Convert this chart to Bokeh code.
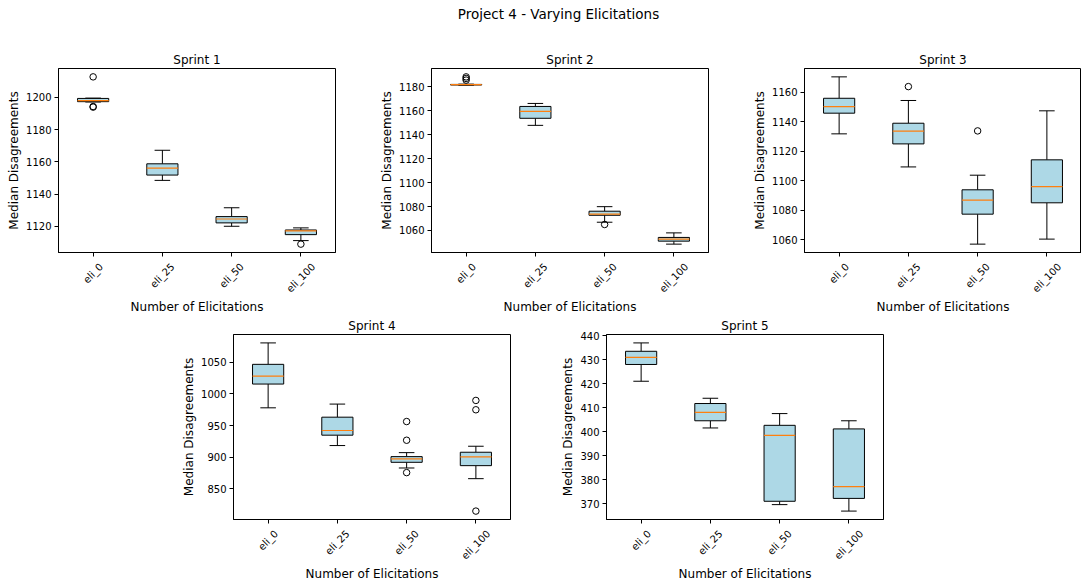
import math
from bokeh.plotting import figure
from bokeh.models import Range1d, FixedTicker, Spacer
from bokeh.layouts import column, row
from bokeh.core.properties import value
from bokeh.embed import file_html
from bokeh.resources import INLINE

FONT = "DejaVu Sans"

categories = ["eli_0", "eli_25", "eli_50", "eli_100"]

# Sprint 1
s1_q1 = [1197.4, 1151.8, 1122.1, 1114.8]
s1_med = [1198.0, 1156.1, 1124.5, 1117.1]
s1_q3 = [1199.4, 1158.8, 1126.0, 1117.7]
s1_lo = [1197.2, 1148.5, 1120.0, 1111.1]
s1_hi = [1199.6, 1167.2, 1131.5, 1119.0]
s1_flier_cat = [0, 0, 0, 3]
s1_flier_val = [1212.8, 1194.0, 1194.4, 1108.9]
s1_yticks = [1120, 1140, 1160, 1180, 1200]

# Sprint 2
s2_q1 = [1181.5, 1153.7, 1072.7, 1051.1]
s2_med = [1181.8, 1159.5, 1073.6, 1052.8]
s2_q3 = [1182.0, 1163.6, 1076.1, 1054.2]
s2_lo = [1181.3, 1147.8, 1066.9, 1048.6]
s2_hi = [1182.2, 1166.1, 1079.9, 1058.0]
s2_flier_cat = [0, 0, 0, 2]
s2_flier_val = [1185.6, 1187.0, 1188.3, 1065.0]
s2_yticks = [1060, 1080, 1100, 1120, 1140, 1160, 1180]

# Sprint 3
s3_q1 = [1145.8, 1125.0, 1077.4, 1085.1]
s3_med = [1150.3, 1133.6, 1086.9, 1096.1]
s3_q3 = [1155.9, 1139.0, 1093.9, 1114.2]
s3_lo = [1131.8, 1109.4, 1057.1, 1060.5]
s3_hi = [1170.4, 1154.4, 1103.8, 1147.4]
s3_flier_cat = [1, 2]
s3_flier_val = [1163.8, 1133.8]
s3_yticks = [1060, 1080, 1100, 1120, 1140, 1160]

# Sprint 4
s4_q1 = [1015.6, 934.7, 891.8, 886.5]
s4_med = [1028.3, 942.1, 897.1, 900.3]
s4_q3 = [1046.8, 963.2, 900.8, 907.7]
s4_lo = [978.0, 918.3, 882.8, 865.9]
s4_hi = [1080.7, 983.9, 907.1, 917.2]
s4_flier_cat = [2, 2, 2, 3, 3, 3]
s4_flier_val = [956.3, 926.7, 875.5, 989.7, 974.9, 814.6]
s4_yticks = [850, 900, 950, 1000, 1050]

# Sprint 5
s5_q1 = [428.1, 404.6, 371.0, 372.2]
s5_med = [431.1, 408.1, 398.5, 377.1]
s5_q3 = [433.6, 411.8, 402.7, 401.2]
s5_lo = [421.1, 401.6, 369.6, 366.9]
s5_hi = [437.1, 414.0, 407.6, 404.6]
s5_flier_cat = []
s5_flier_val = []
s5_yticks = [370, 380, 390, 400, 410, 420, 430, 440]

X_LABEL = "Number of Elicitations"
Y_LABEL = "Median Disagreements"

BOX_W = 0.45
CAP_W = BOX_W / 2

# DejaVu Sans advance widths (units per em = 2048), used to centre rotated tick labels
ADV = {"e": 1260, "l": 569, "i": 569, "_": 1024, "0": 1303, "1": 1303, "2": 1303, "5": 1303}
TICK_FS = 10.0
TICK_H = 0.97 * TICK_FS
TICK_PAD = 9.2
XLABEL_OFF = 54.5     # px below frame bottom (centre of x-axis label)
MAIN_BOT = 5          # px of main figure below its frame (holds tick marks)


def style_text_axis(ax):
    ax.axis_line_color = "black"
    ax.major_tick_line_color = "black"
    ax.minor_tick_line_color = None
    ax.major_tick_in = 0
    ax.major_tick_out = 4
    ax.major_label_standoff = 3
    ax.major_label_text_font = FONT
    ax.major_label_text_font_size = "10px"
    ax.major_label_text_color = "black"
    ax.axis_label_text_font = FONT
    ax.axis_label_text_font_size = "12px"
    ax.axis_label_text_font_style = "normal"
    ax.axis_label_text_color = "black"


def make_panel(name, q1, med, q3, lo, hi, fcat, fval, yticks,
               width, left, right, top, frame_h, bottom_total):
    pos = [i + 1 for i in range(len(categories))]
    allv = lo + hi + fval
    ymin, ymax = min(allv), max(allv)
    pad = 0.05 * (ymax - ymin)
    xr = Range1d(0.5, len(categories) + 0.5)
    p = figure(width=width, height=top + frame_h + MAIN_BOT, title=name,
               x_range=xr, y_range=Range1d(ymin - pad, ymax + pad),
               output_backend="svg", toolbar_location=None,
               min_border_left=left, min_border_right=right,
               min_border_top=top, min_border_bottom=MAIN_BOT)
    p.background_fill_color = "white"
    p.border_fill_color = "white"
    p.outline_line_color = "black"
    p.outline_line_alpha = 1.0
    p.xgrid.visible = False
    p.ygrid.visible = False

    # whiskers
    p.segment(x0=pos, x1=pos, y0=q3, y1=hi, line_color="black", line_width=1)
    p.segment(x0=pos, x1=pos, y0=lo, y1=q1, line_color="black", line_width=1)
    # caps
    p.segment(x0=[x - CAP_W / 2 for x in pos], x1=[x + CAP_W / 2 for x in pos],
              y0=hi, y1=hi, line_color="black", line_width=1)
    p.segment(x0=[x - CAP_W / 2 for x in pos], x1=[x + CAP_W / 2 for x in pos],
              y0=lo, y1=lo, line_color="black", line_width=1)
    # boxes
    p.vbar(x=pos, width=BOX_W, bottom=q1, top=q3, fill_color="#add8e6",
           line_color="black", line_width=1)
    # medians
    p.segment(x0=[x - BOX_W / 2 for x in pos], x1=[x + BOX_W / 2 for x in pos],
              y0=med, y1=med, line_color="#ff7f0e", line_width=1.2)
    # fliers
    if fval:
        p.scatter(x=[pos[c] for c in fcat], y=fval, marker="circle", size=6.5,
                  fill_color=None, line_color="black", line_width=1)

    p.xaxis.ticker = FixedTicker(ticks=pos)
    p.xaxis.major_label_overrides = {pos[i]: "" for i in range(len(categories))}
    p.yaxis.ticker = FixedTicker(ticks=yticks)
    p.yaxis.axis_label = Y_LABEL
    for ax in p.axis:
        style_text_axis(ax)
    p.xaxis.major_label_standoff = 0
    p.yaxis.axis_label_standoff = 2

    p.title.align = "center"
    p.title.text_font = FONT
    p.title.text_font_size = "12px"
    p.title.text_font_style = "normal"
    p.title.text_color = "black"
    p.title.standoff = 4

    # strip under the frame: rotated category labels (centred under ticks) + x-axis label
    lab_h = bottom_total - MAIN_BOT
    lab = figure(width=width, height=lab_h, x_range=xr, y_range=Range1d(-lab_h, 0),
                 x_axis_type=None, y_axis_type=None, output_backend="svg",
                 toolbar_location=None, min_border_left=left, min_border_right=right,
                 min_border_top=0, min_border_bottom=0)
    lab.outline_line_color = None
    lab.background_fill_color = "white"
    lab.border_fill_color = "white"
    offs = []
    for c in categories:
        w = sum(ADV[ch] for ch in c) / 2048.0 * TICK_FS
        offs.append(TICK_PAD + (w + TICK_H) / (2 * math.sqrt(2)))
    lab.text(x=pos, y=[-(o - MAIN_BOT) for o in offs], text=categories,
             angle=math.pi / 4, text_align="center", text_baseline="middle",
             text_font=value(FONT), text_font_size=value("10px"), text_color="black")
    lab.text(x=[(xr.start + xr.end) / 2], y=[-(XLABEL_OFF - MAIN_BOT)], text=[X_LABEL],
             text_align="center", text_baseline="middle",
             text_font=value(FONT), text_font_size=value("12px"), text_color="black")
    return column(p, lab)


hdr = figure(width=1081, height=30, title="Project 4 - Varying Elicitations",
             x_axis_type=None, y_axis_type=None, output_backend="svg",
             toolbar_location=None, min_border_left=35, min_border_right=0,
             min_border_top=0, min_border_bottom=0)
hdr.outline_line_color = None
hdr.title.align = "center"
hdr.title.text_font = FONT
hdr.title.text_font_size = "13.5px"
hdr.title.text_font_style = "normal"
hdr.title.text_color = "black"
hdr.title.standoff = 6

TOP1, FR1, BOT1 = 38, 184, 62
TOP2, FR2, BOT2 = 20, 185, 64

c1 = make_panel("Sprint 1", s1_q1, s1_med, s1_q3, s1_lo, s1_hi, s1_flier_cat, s1_flier_val,
                s1_yticks, 336, 58, 1, TOP1, FR1, BOT1)
c2 = make_panel("Sprint 2", s2_q1, s2_med, s2_q3, s2_lo, s2_hi, s2_flier_cat, s2_flier_val,
                s2_yticks, 373, 95, 1, TOP1, FR1, BOT1)
c3 = make_panel("Sprint 3", s3_q1, s3_med, s3_q3, s3_lo, s3_hi, s3_flier_cat, s3_flier_val,
                s3_yticks, 372, 95, 0, TOP1, FR1, BOT1)
c4 = make_panel("Sprint 4", s4_q1, s4_med, s4_q3, s4_lo, s4_hi, s4_flier_cat, s4_flier_val,
                s4_yticks, 373, 95, 1, TOP2, FR2, BOT2)
c5 = make_panel("Sprint 5", s5_q1, s5_med, s5_q3, s5_lo, s5_hi, s5_flier_cat, s5_flier_val,
                s5_yticks, 373, 95, 1, TOP2, FR2, BOT2)

layout = column(hdr, row(c1, c2, c3),
                row(Spacer(width=138, height=TOP2 + FR2 + BOT2), c4, c5))

with open("out.html", "w") as f:
    f.write(file_html(layout, INLINE))
